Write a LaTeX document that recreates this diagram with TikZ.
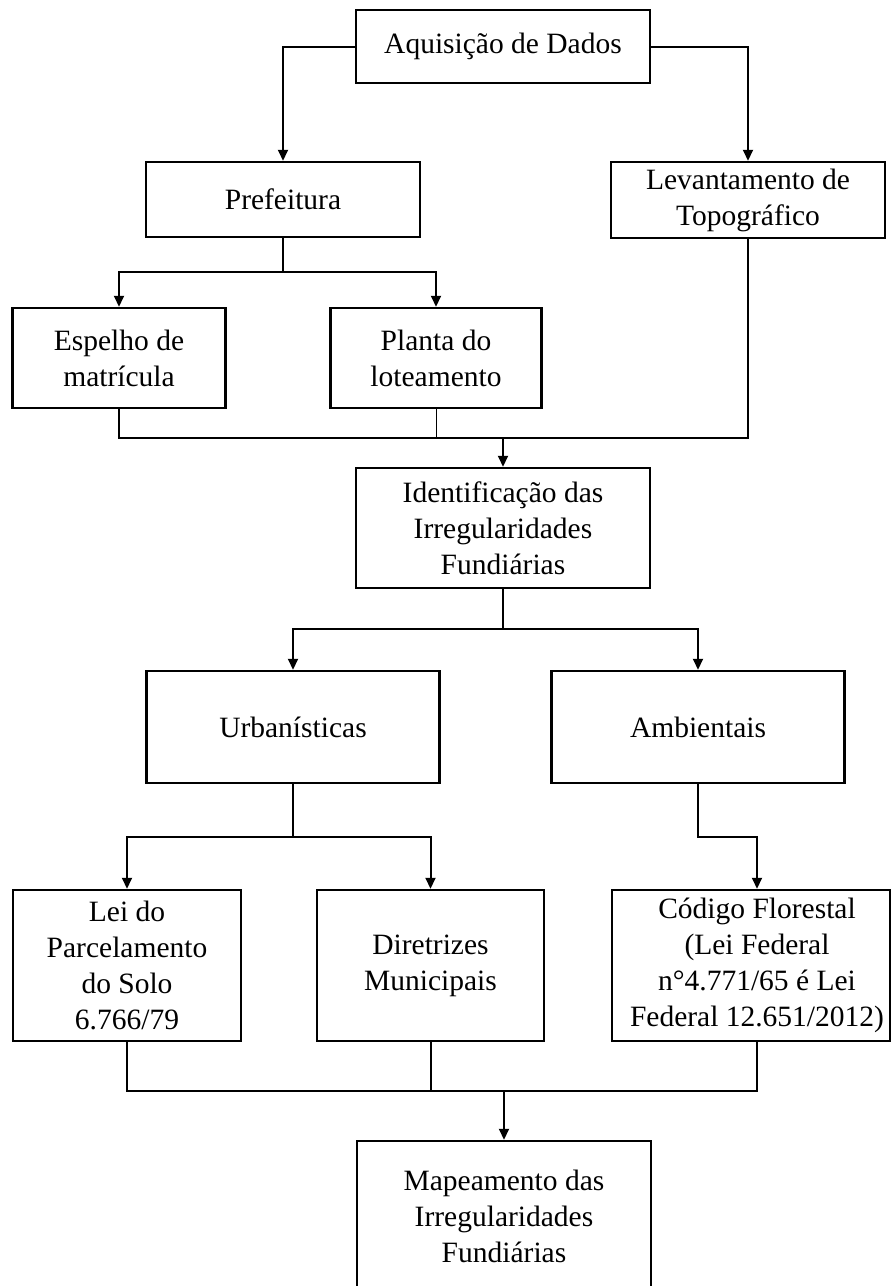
\documentclass[tikz,border=0pt]{standalone}
\usepackage{fontspec}
\setmainfont{Liberation Serif}
\usetikzlibrary{arrows.meta}

\begin{document}
\begin{tikzpicture}[x=1pt,y=-1pt,
    box/.style={draw, line width=2.5pt, align=center, inner sep=0pt,
      font=\fontsize{29.5}{36}\selectfont},
    link/.style={line width=2pt},
    arr/.style={link, -{Triangle[length=11pt,width=10pt]}}]
    \useasboundingbox (0,0) rectangle (892,1286);
    \clip (0,0) rectangle (892,1286);

    % Top and sources
    \node[box, minimum width=294pt, minimum height=73pt] (aquis) at (503,46.5) {Aquisição de Dados};
    \node[box, minimum width=274pt, minimum height=75pt] (pref) at (283,199.5) {Prefeitura};
    \node[box, minimum width=274pt, minimum height=76pt] (lev) at (748,200) {Levantamento de\\Topográfico};
    \node[box, minimum width=213pt, minimum height=100pt] (esp) at (119,358) {Espelho de\\matrícula};
    \node[box, minimum width=211pt, minimum height=100pt] (plan) at (436,358) {Planta do\\loteamento};

    % Identification
    \node[box, minimum width=294pt, minimum height=120pt] (ident) at (503,528) {Identificação das\\Irregularidades\\Fundiárias};
    \node[box, minimum width=293pt, minimum height=112pt] (urb) at (293,727) {Urbanísticas};
    \node[box, minimum width=293pt, minimum height=112pt] (amb) at (698,727) {Ambientais};

    % Laws
    \node[box, minimum width=228pt, minimum height=151pt] (lei) at (127,965.5) {Lei do\\Parcelamento\\do Solo\\6.766/79};
    \node[box, minimum width=227pt, minimum height=151pt] (dir) at (430.5,965.5) {Diretrizes\\Municipais};
    \node[box, minimum width=278pt, minimum height=151pt] (cod) at (751,965.5) {};
    \node[box, draw=none] (codtxt) at (757,965.5) {Código Florestal\\(Lei Federal\\n°4.771/65 é Lei\\Federal 12.651/2012)};

    % Result
    \node[box, minimum width=294pt, minimum height=151pt] (mapa) at (504,1216.5) {Mapeamento das\\Irregularidades\\Fundiárias};

    % Junctions
    \coordinate (prefj) at (283,272);
    \coordinate (identj) at (503,438);
    \coordinate (ramo) at (503,629);
    \coordinate (urbj) at (293,837);
    \coordinate (mapj) at (504,1091);

    \draw[arr] (aquis.west) -| (pref.north);
    \draw[arr] (aquis.east) -| (lev.north);

    \draw[link] (pref.south) -- (prefj);
    \draw[arr] (prefj) -| (esp.north);
    \draw[arr] (prefj) -| (plan.north);

    \draw[link] (esp.south) |- (identj);
    \draw[link, line width=2.5pt] (lev.south) |- (identj);
    \draw[line width=0.8pt] (plan.south) -- (plan.south |- identj);
    \draw[arr] (identj) -- (ident.north);

    \draw[link] (ident.south) -- (ramo);
    \draw[arr] (ramo) -| (urb.north);
    \draw[arr] (ramo) -| (amb.north);

    \draw[link] (urb.south) -- (urbj);
    \draw[arr] (urbj) -| (lei.north);
    \draw[arr] (urbj) -| (dir.north);
    \draw[arr] (amb.south) |- (codtxt |- urbj) -- (codtxt |- cod.north);

    \draw[link] (lei.south) |- (mapj);
    \draw[link] (codtxt |- cod.south) |- (mapj);
    \draw[link] (dir.south) -- (dir.south |- mapj);
    \draw[arr] (mapj) -- (mapa.north);
\end{tikzpicture}
\end{document}
